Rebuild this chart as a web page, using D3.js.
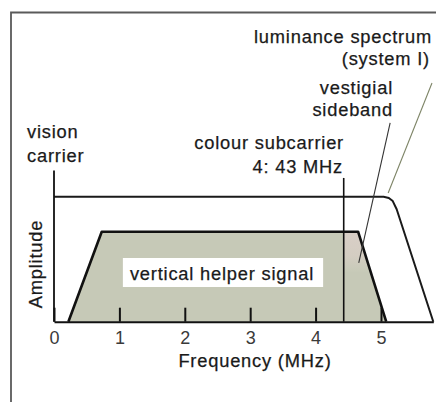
<!DOCTYPE html>
<html>
<head>
<meta charset="utf-8">
<script src="https://cdn.jsdelivr.net/npm/d3@7"></script>
<style>
  body { margin: 0; background: #fff; }
  svg { display: block; }
  text { font-family: "Liberation Sans", Arial, Helvetica, sans-serif; fill: #1a1a1a; }
  .lbl { font-size: 18.3px; letter-spacing: 0.8px; stroke: #1a1a1a; stroke-width: 0.25px; }
  .axis text { font-size: 18px; letter-spacing: 0; fill: #3a3a3a; }
</style>
</head>
<body>
<div id="svg-container"></div>
<script>
// data (frequency in MHz, amplitude relative to luminance level)
const freqTicks = [0, 1, 2, 3, 4, 5];
const lumaFreq = [0, 5.04, 5.12, 5.18, 5.24, 5.8];
const lumaAmp = [1, 1, 0.99, 0.965, 0.9, 0];
const helperFreq = [0.22, 0.73, 4.65, 5.08];
const helperAmp = [0, 0.72, 0.72, 0];
const sidebandFreq = [4.43, 4.65, 4.84, 4.43];
const sidebandAmp = [0.72, 0.72, 0.4, 0.4];
const subcarrierFreq = 4.43;
const subcarrierTop = 1.15;
const visionCarrierTop = 1.21;

const width = 436, height = 402;

const svg = d3.select("#svg-container")
    .append("svg")
    .attr("width", width)
    .attr("height", height);

let x = d3.scaleLinear().domain([0, 5.8]).range([54, 433.3]);
let y = d3.scaleLinear().domain([0, 1]).range([321.7, 196.7]);

// frame (only top and left show)
svg.append("path")
    .attr("d", "M11,402V12.5H436")
    .attr("fill", "none")
    .attr("stroke", "#5a5a5a")
    .attr("stroke-width", 1.8);

const defs = svg.append("defs");
const grad = defs.append("linearGradient")
    .attr("id", "pinkfade")
    .attr("x1", 0).attr("y1", 0).attr("x2", 0).attr("y2", 1);
grad.append("stop").attr("offset", "0%").attr("stop-color", "#d9cfc7");
grad.append("stop").attr("offset", "60%").attr("stop-color", "#d4cdc2");
grad.append("stop").attr("offset", "100%").attr("stop-color", "#c7cab8");

const line = d3.line().x(d => x(d[0])).y(d => y(d[1]));

// vertical helper signal
let helperPts = helperFreq.map((f, i) => [f, helperAmp[i]]);
svg.append("path")
    .attr("d", line(helperPts) + "Z")
    .attr("fill", "#c6c9b7")
    .attr("stroke", "none");

svg.append("path")
    .attr("d", line(sidebandFreq.map((f, i) => [f, sidebandAmp[i]])) + "Z")
    .attr("fill", "url(#pinkfade)");

svg.append("path")
    .attr("d", line(helperPts))
    .attr("fill", "none")
    .attr("stroke", "#111")
    .attr("stroke-width", 2.6)
    .attr("stroke-linejoin", "round");

// luminance spectrum
svg.append("path")
    .attr("d", line(lumaFreq.map((f, i) => [f, lumaAmp[i]])))
    .attr("fill", "none")
    .attr("stroke", "#1a1a1a")
    .attr("stroke-width", 2)
    .attr("stroke-linejoin", "round");

// colour subcarrier
svg.append("line")
    .attr("x1", x(subcarrierFreq)).attr("x2", x(subcarrierFreq))
    .attr("y1", y(subcarrierTop)).attr("y2", y(0))
    .attr("stroke", "#111")
    .attr("stroke-width", 1.6);

// vision carrier (the amplitude axis line)
svg.append("line")
    .attr("x1", x(0)).attr("x2", x(0))
    .attr("y1", y(visionCarrierTop)).attr("y2", y(0))
    .attr("stroke", "#111")
    .attr("stroke-width", 1.8);

// frequency axis
let xAxis = d3.axisBottom(x)
    .tickValues(freqTicks)
    .tickSizeInner(-14)
    .tickSizeOuter(0)
    .tickPadding(10)
    .tickFormat(d3.format("d"));

let axis = svg.append("g")
    .attr("class", "axis")
    .attr("transform", `translate(0,${y(0)})`)
    .call(xAxis);
axis.select(".domain").attr("stroke", "#111").attr("stroke-width", 2);
axis.selectAll(".tick line").attr("stroke", "#111").attr("stroke-width", 2);
axis.selectAll(".tick text").attr("font-family", null).attr("font-size", null);

// pointer lines
svg.append("line")
    .attr("x1", x(4.66)).attr("y1", y(0.47))
    .attr("x2", x(5.14)).attr("y2", y(1.59))
    .attr("stroke", "#333").attr("stroke-width", 1.1);
svg.append("line")
    .attr("x1", x(5.11)).attr("y1", y(1.03))
    .attr("x2", x(5.78)).attr("y2", y(1.91))
    .attr("stroke", "#7d8466").attr("stroke-width", 1.1);

// label inside the helper signal, on a white box
let box = svg.append("rect").attr("fill", "#fff");
let hl = svg.append("text")
    .attr("class", "lbl")
    .attr("x", 222).attr("y", 279.5)
    .attr("text-anchor", "middle")
    .text("vertical helper signal");
let bb = hl.node().getBBox();
box.attr("x", bb.x - 7).attr("y", 258)
    .attr("width", bb.width + 16).attr("height", 29);

// annotations
const notes = [
    ["luminance spectrum", 432, 43, "end"],
    ["(system I)", 430, 65, "end"],
    ["vestigial", 393, 94, "end"],
    ["sideband", 393, 116, "end"],
    ["vision", 27, 138, "start"],
    ["carrier", 27, 162, "start"],
    ["colour subcarrier", 344, 149, "end"],
    ["4: 43 MHz", 343, 172.5, "end"]
];
svg.selectAll("text.note")
    .data(notes)
    .enter()
    .append("text")
    .attr("class", "lbl note")
    .attr("x", d => d[1])
    .attr("y", d => d[2])
    .attr("text-anchor", d => d[3])
    .text(d => d[0]);

svg.append("text")
    .attr("class", "lbl")
    .attr("x", 255).attr("y", 367)
    .attr("text-anchor", "middle")
    .text("Frequency (MHz)");

svg.append("text")
    .attr("class", "lbl")
    .attr("transform", "translate(42,264) rotate(-90)")
    .attr("text-anchor", "middle")
    .text("Amplitude");
</script>
</body>
</html>
